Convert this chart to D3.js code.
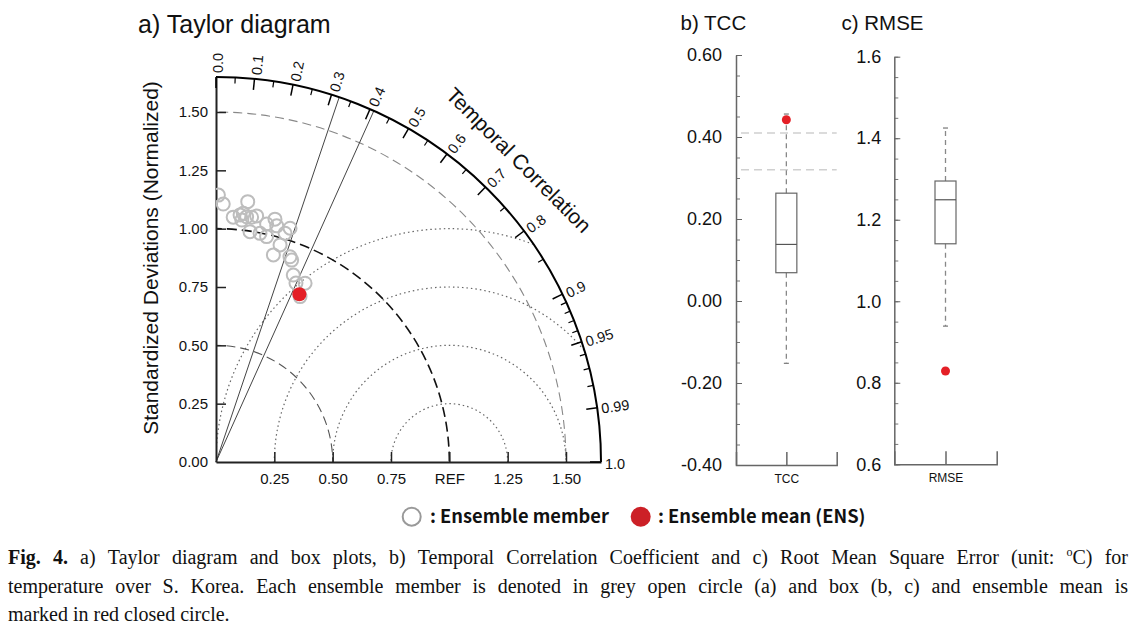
<!DOCTYPE html>
<html><head><meta charset="utf-8">
<script src="https://cdn.jsdelivr.net/npm/d3@7"></script>
<style>
body{margin:0;background:#fff}
svg{display:block;font-family:"Liberation Sans",Arial,Helvetica,sans-serif}
</style>
</head><body>
<svg id="c" width="1137" height="635"></svg>
<script>
// ---------------- data ----------------
const memberCorr = [0.009,0.028,0.121,0.070,0.097,0.109,0.124,0.144,0.163,0.106,0.146,0.189,0.219,0.208,0.236,0.249,0.289,0.302,0.283,0.267,0.339,0.351,0.382,0.408,0.446,0.453];
const memberStd  = [1.144,1.106,1.124,1.052,1.064,1.072,1.059,1.060,1.069,1.043,0.998,0.998,0.990,1.043,1.071,1.045,1.024,1.051,0.970,0.921,0.935,0.924,0.867,0.840,0.856,0.795];
const ensCorr = [0.445];
const ensStd  = [0.803];
const sigCorr = [0.32, 0.41];
const stdTicksX = [0.25,0.5,0.75,1.0,1.25,1.5];
const stdTickLabelsX = ["0.25","0.50","0.75","REF","1.25","1.50"];
const stdTicksY = [0,0.25,0.5,0.75,1.0,1.25,1.5];
const stdTickLabelsY = ["0.00","0.25","0.50","0.75","1.00","1.25","1.50"];
const corrMajor = [0,0.1,0.2,0.3,0.4,0.5,0.6,0.7,0.8,0.9,0.95,0.99,1.0];
const corrMajorLabels = ["0.0","0.1","0.2","0.3","0.4","0.5","0.6","0.7","0.8","0.9","0.95","0.99","1.0"];
const corrMinor = [0.05,0.15,0.25,0.35,0.45,0.55,0.65,0.75,0.85,0.91,0.92,0.93,0.94,0.96,0.97,0.98];
const stdArcs = [0.5,1.0,1.5];
const rmsArcs = [0.25,0.5,0.75,1.0];
const stdMax = 1.65;

const tccCategory = ["TCC"];
const tccBox = [-0.152,0.069,0.138,0.263,0.456];   // min, q1, median, q3, max
const tccEns = [0.442];
const tccTicks = [-0.4,-0.2,0,0.2,0.4,0.6];
const tccTickLabels = ["-0.40","-0.20","0.00","0.20","0.40","0.60"];

const rmseCategory = ["RMSE"];
const rmseBox = [0.939,1.141,1.249,1.295,1.425];
const rmseEns = [0.829];
const rmseTicks = [0.6,0.8,1.0,1.2,1.4,1.6];
const rmseTickLabels = ["0.6","0.8","1.0","1.2","1.4","1.6"];

const legendLabels = [": Ensemble member", ": Ensemble mean (ENS)"];
const captionLines = [
  "Fig. 4. a) Taylor diagram and box plots, b) Temporal Correlation Coefficient and c) Root Mean Square Error (unit: °C) for",
  "temperature over S. Korea. Each ensemble member is denoted in grey open circle (a) and box (b, c) and ensemble mean is",
  "marked in red closed circle."
];

// ---------------- setup ----------------
const svg = d3.select("#c");
const RED = "#e41f26";

// ===== a) Taylor diagram =====
const x = d3.scaleLinear().domain([0, stdMax]).range([216, 601]);
const y = d3.scaleLinear().domain([0, stdMax]).range([462, 77]);
const ox = x(0), oy = y(0);
const R = x(stdMax) - ox;
const px = v => x(v) - ox; // radius in pixels

svg.append("text").attr("x",138).attr("y",33).attr("font-size",25).attr("fill","#111").text("a) Taylor diagram");

// clip quarter disc
const cp = d3.path();
cp.moveTo(ox, oy); cp.lineTo(ox, oy - R); cp.arc(ox, oy, R, -Math.PI/2, 0); cp.closePath();
svg.append("defs").append("clipPath").attr("id","quad").append("path").attr("d", cp.toString());

const gT = svg.append("g");
const gc = gT.append("g").attr("clip-path","url(#quad)");

// RMS dotted arcs centred at REF
gc.selectAll("circle.rms").data(rmsArcs).join("circle")
  .attr("cx", x(1)).attr("cy", oy).attr("r", d => px(d))
  .attr("fill","none").attr("stroke","#666").attr("stroke-width",1.2).attr("stroke-dasharray","1.5,3");

// std dashed arcs
gc.selectAll("circle.std").data(stdArcs).join("circle")
  .attr("cx", ox).attr("cy", oy).attr("r", d => px(d))
  .attr("fill","none")
  .attr("stroke", d => d === 1 ? "#111" : (d === 1.5 ? "#888" : "#555"))
  .attr("stroke-width", d => d === 1 ? 1.6 : 1.1)
  .attr("stroke-dasharray", d => d === 1 ? "10,5" : "9,5");

// significance radial lines
gT.selectAll("line.sig").data(sigCorr).join("line")
  .attr("x1", ox).attr("y1", oy)
  .attr("x2", d => ox + R*d).attr("y2", d => oy - R*Math.sqrt(1-d*d))
  .attr("stroke","#444").attr("stroke-width",1);

// outer arc
const oa = d3.path(); oa.arc(ox, oy, R, -Math.PI/2, 0);
gT.append("path").attr("d", oa.toString()).attr("fill","none").attr("stroke","#000").attr("stroke-width",2);

// axes
const yAx = gT.append("g").attr("transform",`translate(${ox},0)`)
  .call(d3.axisLeft(y).tickValues(stdTicksY).tickSizeInner(-10).tickSizeOuter(0).tickPadding(8)
    .tickFormat((d,i)=>stdTickLabelsY[i]));
const xAx = gT.append("g").attr("transform",`translate(0,${oy})`)
  .call(d3.axisBottom(x).tickValues(stdTicksX).tickSizeInner(-10).tickSizeOuter(0).tickPadding(11)
    .tickFormat((d,i)=>stdTickLabelsX[i]));
[yAx, xAx].forEach(a => {
  a.select(".domain").attr("stroke","#222").attr("stroke-width",2);
  a.selectAll(".tick line").attr("stroke","#222").attr("stroke-width",1.5);
  a.selectAll(".tick text").attr("font-size",15).attr("fill","#111").attr("font-family","Liberation Sans, Arial, sans-serif");
});
yAx.selectAll(".tick").filter(d => d === 0).select("line").remove();

// correlation ticks
function radial(c, r0, r1){
  const s = Math.sqrt(Math.max(0,1-c*c));
  return {x1: ox + r0*c, y1: oy - r0*s, x2: ox + r1*c, y2: oy - r1*s};
}
gT.selectAll("line.cmaj").data(corrMajor).join("line")
  .each(function(d){ const p = radial(d, R, R-11); d3.select(this).attr("x1",p.x1).attr("y1",p.y1).attr("x2",p.x2).attr("y2",p.y2); })
  .attr("stroke","#000").attr("stroke-width",1.5);
gT.selectAll("line.cmin").data(corrMinor).join("line")
  .each(function(d){ const p = radial(d, R, R-6); d3.select(this).attr("x1",p.x1).attr("y1",p.y1).attr("x2",p.x2).attr("y2",p.y2); })
  .attr("stroke","#000").attr("stroke-width",1.2);
gT.selectAll("text.clab").data(corrMajor).join("text")
  .attr("transform", d => {
    const th = Math.acos(d)*180/Math.PI;
    const p = radial(d, R+4, R+4);
    return `translate(${p.x1},${p.y1}) rotate(${-th})`;
  })
  .attr("dy","0.45em").attr("font-size",14.5).attr("fill","#111")
  .text((d,i)=>corrMajorLabels[i]);

// axis titles
gT.append("text").attr("transform",`translate(158,258) rotate(-90)`).attr("text-anchor","middle")
  .attr("font-size",21).attr("fill","#111").text("Standardized Deviations (Normalized)");
gT.append("text").attr("transform",`translate(${ox+303},${oy-302}) rotate(45)`).attr("text-anchor","middle")
  .attr("dominant-baseline","central").attr("font-size",21).attr("fill","#111").text("Temporal Correlation");

// ensemble members
const members = memberCorr.map((c,i)=>({c, s: memberStd[i]}));
const gm = gT.append("g").attr("clip-path","url(#quad)");
gm.selectAll("circle.m").data(members).join("circle")
  .attr("cx", d => x(d.s*d.c)).attr("cy", d => y(d.s*Math.sqrt(1-d.c*d.c))).attr("r",6.5)
  .attr("fill","none").attr("stroke","#bdbdbd").attr("stroke-width",2);
const ens = ensCorr.map((c,i)=>({c, s: ensStd[i]}));
gT.selectAll("circle.e").data(ens).join("circle")
  .attr("cx", d => x(d.s*d.c)).attr("cy", d => y(d.s*Math.sqrt(1-d.c*d.c))).attr("r",7)
  .attr("fill",RED);

// ===== box plots =====
function boxPanel(o){
  const g = svg.append("g");
  const yy = d3.scaleLinear().domain(o.domain).range(o.yRange);
  const xx = d3.scalePoint().domain(o.cat).range(o.xRange).padding(0.5);
  g.append("text").attr("x",o.titleX).attr("y",30).attr("font-size",20.5).attr("fill","#111").text(o.title);
  if (o.refs) g.selectAll("line.ref").data(o.refs).join("line")
    .attr("x1", o.xRange[0]+5).attr("x2", o.xRange[1]).attr("y1", d=>yy(d)).attr("y2", d=>yy(d))
    .attr("stroke","#d0d0d0").attr("stroke-width",1.5).attr("stroke-dasharray","8,5");
  const minor = d3.range(Math.round(o.domain[0]*100), Math.round(o.domain[1]*100)+1, 5).map(v=>v/100);
  g.append("g").attr("transform",`translate(${o.xRange[0]},0)`)
    .call(d3.axisLeft(yy).tickValues(minor).tickSizeInner(-4).tickSizeOuter(0).tickFormat(""))
    .call(a => { a.select(".domain").remove(); a.selectAll("line").attr("stroke","#777"); });
  const ya = g.append("g").attr("transform",`translate(${o.xRange[0]},0)`)
    .call(d3.axisLeft(yy).tickValues(o.ticks).tickSizeInner(-6).tickSizeOuter(0).tickPadding(o.pad)
      .tickFormat((d,i)=>o.labels[i]));
  ya.select(".domain").attr("stroke","#666").attr("stroke-width",1.5);
  ya.selectAll(".tick line").attr("stroke","#666");
  ya.selectAll(".tick text").attr("font-size",18).attr("fill","#111").attr("font-family","Liberation Sans, Arial, sans-serif");
  const xa = g.append("g").attr("transform",`translate(0,${yy(o.domain[0])})`)
    .call(d3.axisBottom(xx).tickSizeInner(-13).tickSizeOuter(-13).tickPadding(9));
  xa.select(".domain").attr("stroke","#666").attr("stroke-width",1.5);
  xa.selectAll(".tick line").attr("stroke","#666").attr("stroke-width",1.5);
  xa.selectAll(".tick text").attr("font-size",12).attr("fill","#111").attr("font-family","Liberation Sans, Arial, sans-serif");
  const cx = xx(o.cat[0]), bw = 21;
  const [mn,q1,md,q3,mx] = o.stats;
  g.append("line").attr("x1",cx).attr("x2",cx).attr("y1",yy(q3)).attr("y2",yy(mx))
    .attr("stroke","#888").attr("stroke-width",1.3).attr("stroke-dasharray","5,4");
  g.append("line").attr("x1",cx).attr("x2",cx).attr("y1",yy(q1)).attr("y2",yy(mn))
    .attr("stroke","#888").attr("stroke-width",1.3).attr("stroke-dasharray","5,4");
  [mn,mx].forEach(v => g.append("line").attr("x1",cx-2.5).attr("x2",cx+2.5).attr("y1",yy(v)).attr("y2",yy(v))
    .attr("stroke","#777").attr("stroke-width",1.2));
  g.append("rect").attr("x",cx-bw/2).attr("y",yy(q3)).attr("width",bw).attr("height",yy(q1)-yy(q3))
    .attr("fill","none").attr("stroke","#666").attr("stroke-width",1.2);
  g.append("line").attr("x1",cx-bw/2).attr("x2",cx+bw/2).attr("y1",yy(md)).attr("y2",yy(md))
    .attr("stroke","#555").attr("stroke-width",1.2);
  g.selectAll("circle.ens").data(o.ens).join("circle").attr("cx",cx).attr("cy",d=>yy(d)).attr("r",4.5).attr("fill",RED);
}
boxPanel({title:"b) TCC", titleX:680.5, domain:[-0.4,0.6], yRange:[465,55], xRange:[736,836.7], cat:tccCategory,
  ticks:tccTicks, labels:tccTickLabels, pad:14, stats:tccBox, ens:tccEns, refs:sigCorr});
boxPanel({title:"c) RMSE", titleX:841.5, domain:[0.6,1.6], yRange:[464.3,56.7], xRange:[894.3,996.7], cat:rmseCategory,
  ticks:rmseTicks, labels:rmseTickLabels, pad:13, stats:rmseBox, ens:rmseEns});

// ===== legend =====
const lg = svg.append("g").attr("font-family","'Noto Sans CJK KR','Noto Sans',sans-serif").attr("font-weight",700).attr("font-size",18.3).attr("fill","#111");
lg.append("circle").attr("cx",411.7).attr("cy",516.7).attr("r",9).attr("fill","none").attr("stroke","#999").attr("stroke-width",2);
lg.append("text").attr("x",430).attr("y",522.5).text(legendLabels[0]);
lg.append("circle").attr("cx",640.7).attr("cy",516.7).attr("r",10).attr("fill","#cc2027");
lg.append("text").attr("x",658).attr("y",522.5).text(legendLabels[1]);

// ===== caption (justified) =====
const cg = svg.append("g").attr("font-family","'Liberation Serif','Times New Roman',serif").attr("font-size",20).attr("fill","#111");
const capY = [564, 592.5, 620.5];
captionLines.forEach((line, li) => {
  const words = line.split(" ");
  const nodes = words.map((w, wi) => {
    const t = cg.append("text").attr("y", capY[li]);
    if (li === 0 && wi < 2) t.attr("font-weight",700);
    if (w.includes("°")) {
      const parts = w.split("°");
      t.append("tspan").text(parts[0]);
      t.append("tspan").attr("font-size",12).attr("dy",-8).text("o");
      t.append("tspan").attr("dy",8).text(parts[1]);
    } else t.text(w);
    return t;
  });
  const widths = nodes.map(n => n.node().getComputedTextLength());
  const x0 = 8, x1 = 1128;
  const total = d3.sum(widths);
  const gap = li < 2 ? (x1 - x0 - total)/(words.length-1) : 5;
  let cx = x0;
  nodes.forEach((n,i) => { n.attr("x", cx); cx += widths[i] + gap; });
});
</script>
</body></html>
